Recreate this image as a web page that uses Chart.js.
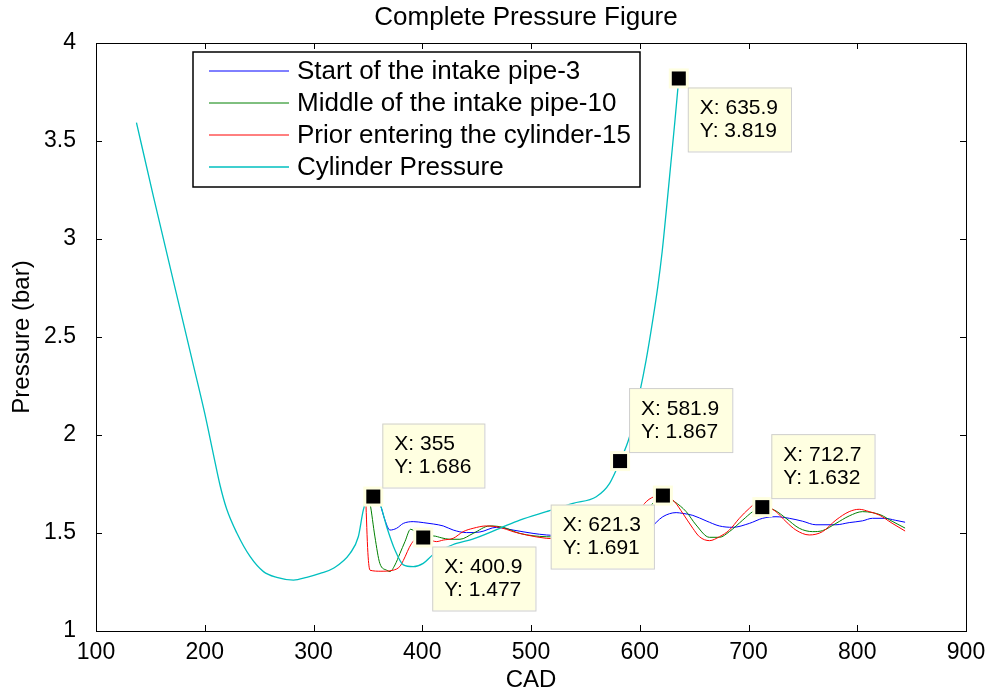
<!DOCTYPE html>
<html>
<head>
<meta charset="utf-8">
<title>Complete Pressure Figure</title>
<script src="https://cdn.jsdelivr.net/npm/chart.js@4.4.1/dist/chart.umd.min.js"></script>
<style>
  html, body { margin: 0; padding: 0; background: #fff; }
  #wrap { width: 989px; height: 692px; }
</style>
</head>
<body>
<div id="wrap"><canvas id="pressureChart" width="989" height="692"></canvas></div>
<script>
// Series names (legend order)
const seriesNames = [
  'Start of the intake pipe-3',
  'Middle of the intake pipe-10',
  'Prior entering the cylinder-15',
  'Cylinder Pressure'
];

// Start of the intake pipe-3 (blue)
const startCad = [357, 361, 365.7, 370.3, 376.4, 382.6, 391.7, 400.9, 410.1, 419.3, 428.5, 440.7, 452.9, 468.2, 483.5, 501.9, 514.1,
  530, 550, 570, 590, 600, 609, 621.2, 633.5, 639.6, 648.8, 661, 673.2, 685.5, 700.8, 713, 725.3, 737.5, 749.8, 762, 780.4,
  792.6, 804.8, 814, 825, 835, 844];
const startP = [1.69, 1.651, 1.566, 1.515, 1.524, 1.549, 1.558, 1.553, 1.546, 1.536, 1.515, 1.502, 1.505, 1.529, 1.515, 1.498, 1.49,
  1.485, 1.48, 1.49, 1.50, 1.505, 1.524, 1.583, 1.604, 1.6, 1.59, 1.562, 1.536, 1.529, 1.549, 1.575, 1.583, 1.575, 1.56, 1.542, 1.542,
  1.553, 1.562, 1.575, 1.575, 1.565, 1.555];

// Middle of the intake pipe-10 (green)
const middleCad = [350, 352, 356.5, 361, 367.3, 370.3, 374.9, 379.5, 384.1, 389.3, 395, 400.9, 410, 418, 425, 434.6, 446.8, 462.1,
  474.4, 489.7, 514, 530, 550, 570, 590, 600, 609, 613.5, 621.3, 631.9, 642.7, 651.8, 664.1, 673.3, 682.4, 694.7, 703.9, 712,
  723.8, 734.5, 746.7, 759, 768.1, 780.4, 792.6, 804.8, 814, 821.7, 832, 844];
const middleP = [1.686, 1.65, 1.48, 1.345, 1.31, 1.303, 1.337, 1.396, 1.456, 1.519, 1.50, 1.477, 1.485, 1.475, 1.468, 1.468, 1.498, 1.536,
  1.529, 1.498, 1.481, 1.48, 1.48, 1.50, 1.56, 1.61, 1.634, 1.66, 1.691, 1.66, 1.609, 1.541, 1.478, 1.478, 1.507, 1.566, 1.609, 1.632,
  1.617, 1.575, 1.524, 1.507, 1.512, 1.549, 1.587, 1.609, 1.604, 1.592, 1.56, 1.525];

// Prior entering the cylinder-15 (red)
const priorCad = [348, 350, 352, 362, 373, 379.5, 382.6, 390, 398, 405, 413, 419.3, 428.5, 437.6, 446.8, 459, 471.3, 483.5, 495.8,
  514, 530, 550, 570, 590, 600, 606, 611, 618, 625, 631.9, 639.6, 648.8, 654.9, 664.1, 673.3, 682.4, 691.6, 700.8, 707, 712.7,
  718, 725.3, 734.5, 743.6, 755.9, 768.1, 780.4, 792.6, 801.8, 811, 820.1, 832, 844];
const priorP = [1.68, 1.40, 1.31, 1.305, 1.31, 1.33, 1.36, 1.445, 1.48, 1.47, 1.456, 1.464, 1.473, 1.507, 1.524, 1.536, 1.529, 1.507, 1.49,
  1.473, 1.47, 1.47, 1.49, 1.55, 1.62, 1.66, 1.68, 1.69, 1.685, 1.66, 1.60, 1.524, 1.481, 1.461, 1.481, 1.515, 1.575, 1.626, 1.651, 1.65,
  1.635, 1.609, 1.558, 1.515, 1.49, 1.507, 1.566, 1.609, 1.621, 1.609, 1.592, 1.55, 1.51];

// Cylinder Pressure (cyan)
const cylinderCad = [137.2, 153.1, 171.4, 189.8, 200, 208, 214, 220, 229.5, 241.8, 254, 266.2, 281.6, 293.8, 306.1, 318.3, 333.6, 341.2,
  345.8, 350.4, 354, 358.1, 361.1, 367.3, 374.9, 382.6, 391.7, 400.9, 410.1, 428, 447, 471.3, 489.7, 514.1, 538.6, 560, 572.3,
  581.9, 590.6, 599.8, 605.9, 612, 616.6, 620.6, 624.5, 628.5, 632.3, 635.9];
const cylinderP = [3.594, 3.21, 2.78, 2.35, 2.11, 1.90, 1.745, 1.625, 1.50, 1.379, 1.303, 1.274, 1.26, 1.274, 1.294, 1.32, 1.396, 1.481,
  1.617, 1.685, 1.686, 1.677, 1.651, 1.532, 1.413, 1.337, 1.328, 1.345, 1.39, 1.44, 1.47, 1.524, 1.566, 1.609, 1.651, 1.685, 1.753,
  1.867, 1.991, 2.212, 2.383, 2.587, 2.757, 2.935, 3.15, 3.38, 3.6, 3.819];

// Data tips shown on the figure
const tipCad = [355, 400.9, 581.9, 621.3, 712.7, 635.9];
const tipPressure = [1.686, 1.477, 1.867, 1.691, 1.632, 3.819];
const tipSide = ['ne', 'se', 'ne', 'sw', 'ne', 'se'];

// Axis ticks
const xTicks = [100, 200, 300, 400, 500, 600, 700, 800, 900];
const yTicks = [1, 1.5, 2, 2.5, 3, 3.5, 4];

const seriesColors = ['#0000ff', '#008000', '#ff0000', '#00bfbf'];
const FONT = '"Liberation Sans", Arial, Helvetica, sans-serif';

function toPoints(xs, ys) {
  return xs.map((x, i) => ({ x: x, y: ys[i] }));
}

// Box, inside ticks, title, data tips and legend (MATLAB look)
const framePlugin = {
  id: 'frame',
  afterDatasetsDraw(chart) {
    const ctx = chart.ctx;
    const a = chart.chartArea;
    const xs = chart.scales.x, ys = chart.scales.y;
    ctx.save();
    ctx.strokeStyle = '#000';
    ctx.lineWidth = 1;
    ctx.strokeRect(a.left + 0.5, a.top + 0.5, a.right - a.left, a.bottom - a.top);
    ctx.beginPath();
    xTicks.forEach(v => {
      const px = Math.round(xs.getPixelForValue(v)) + 0.5;
      ctx.moveTo(px, a.bottom); ctx.lineTo(px, a.bottom - 6);
      ctx.moveTo(px, a.top); ctx.lineTo(px, a.top + 6);
    });
    yTicks.forEach(v => {
      const py = Math.round(ys.getPixelForValue(v)) + 0.5;
      ctx.moveTo(a.left, py); ctx.lineTo(a.left + 6, py);
      ctx.moveTo(a.right, py); ctx.lineTo(a.right - 6, py);
    });
    ctx.stroke();

    // title
    ctx.fillStyle = '#000';
    ctx.font = '26px ' + FONT;
    ctx.textAlign = 'center';
    ctx.textBaseline = 'middle';
    ctx.fillText('Complete Pressure Figure', (a.left + a.right) / 2 - 5, 18);

    // data tips
    ctx.font = '21px ' + FONT;
    ctx.textAlign = 'left';
    tipCad.forEach((cad, i) => {
      const mx = xs.getPixelForValue(cad);
      const my = ys.getPixelForValue(tipPressure[i]);
      ctx.fillStyle = '#ffffe1';
      ctx.fillRect(mx - 10, my - 10, 20, 20);
      ctx.fillStyle = '#000';
      ctx.fillRect(mx - 7, my - 7, 14, 14);

      const l1 = 'X: ' + cad, l2 = 'Y: ' + tipPressure[i];
      const w = Math.max(ctx.measureText(l1).width, ctx.measureText(l2).width) + 25;
      const h = 64;
      const side = tipSide[i];
      const bx = side.includes('e') ? mx + 9 : mx - 9 - w;
      const by = side.includes('n') ? my - 9 - h : my + 9;
      ctx.fillStyle = '#ffffe1';
      ctx.fillRect(bx, by, w, h);
      ctx.strokeStyle = '#cfcfcf';
      ctx.strokeRect(bx + 0.5, by + 0.5, w, h);
      ctx.fillStyle = '#000';
      ctx.fillText(l1, bx + 12, by + 21);
      ctx.fillText(l2, bx + 12, by + 44);
    });

    // legend
    const lx = a.left + 97, ly = a.top + 9, lw = 447, lh = 135;
    ctx.fillStyle = '#fff';
    ctx.fillRect(lx, ly, lw, lh);
    ctx.strokeStyle = '#000';
    ctx.lineWidth = 1.5;
    ctx.strokeRect(lx, ly, lw, lh);
    ctx.font = '26px ' + FONT;
    chart.data.datasets.forEach((ds, i) => {
      const ry = ly + 19 + i * 32;
      ctx.strokeStyle = ds.borderColor;
      ctx.lineWidth = ds.borderWidth;
      ctx.beginPath();
      ctx.moveTo(lx + 16, ry); ctx.lineTo(lx + 96, ry);
      ctx.stroke();
      ctx.fillStyle = '#000';
      ctx.fillText(ds.label, lx + 104, ry + 1);
    });
    ctx.restore();
  }
};

const ctx = document.getElementById('pressureChart').getContext('2d');
new Chart(ctx, {
  type: 'line',
  data: {
    datasets: [
      { label: seriesNames[0], data: toPoints(startCad, startP), borderColor: seriesColors[0], borderWidth: 1, order: 4 },
      { label: seriesNames[1], data: toPoints(middleCad, middleP), borderColor: seriesColors[1], borderWidth: 1, order: 3 },
      { label: seriesNames[2], data: toPoints(priorCad, priorP), borderColor: seriesColors[2], borderWidth: 1, order: 2 },
      { label: seriesNames[3], data: toPoints(cylinderCad, cylinderP), borderColor: seriesColors[3], borderWidth: 1.3, order: 1 }
    ]
  },
  options: {
    responsive: false,
    animation: false,
    events: [],
    elements: {
      point: { radius: 0 },
      line: { fill: false, cubicInterpolationMode: 'monotone' }
    },
    layout: { padding: { left: 0, top: 43, right: 23, bottom: 0 } },
    plugins: {
      legend: { display: false },
      tooltip: { enabled: false },
      title: { display: false }
    },
    scales: {
      x: {
        type: 'linear',
        min: 100,
        max: 900,
        afterFit: s => { s.height = 61; },
        afterBuildTicks: s => { s.ticks = xTicks.map(v => ({ value: v })); },
        grid: { display: false },
        border: { display: false },
        ticks: { color: '#000', padding: 0, font: { family: FONT, size: 23 }, maxRotation: 0 },
        title: { display: true, text: 'CAD', color: '#000', padding: { top: 0, bottom: -3 }, font: { family: FONT, size: 24 } }
      },
      y: {
        type: 'linear',
        min: 1,
        max: 4,
        afterFit: s => { s.width = 96; },
        afterBuildTicks: s => { s.ticks = yTicks.map(v => ({ value: v })); },
        grid: { display: false },
        border: { display: false },
        ticks: { color: '#000', padding: 12, font: { family: FONT, size: 23 }, callback: v => String(v) },
        title: { display: true, text: 'Pressure (bar)', color: '#000', padding: { top: 8, bottom: 0 }, font: { family: FONT, size: 24 } }
      }
    }
  },
  plugins: [framePlugin]
});
</script>
</body>
</html>
